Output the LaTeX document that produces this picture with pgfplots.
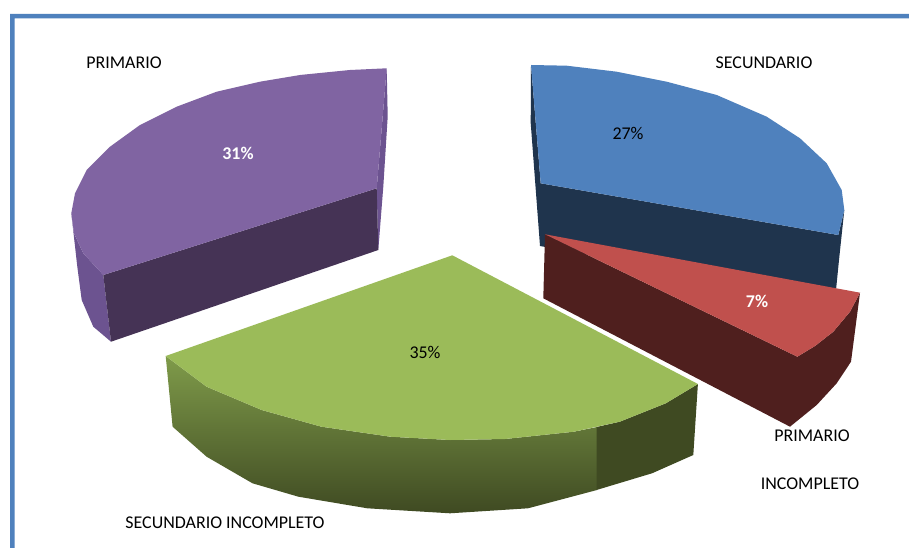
\documentclass[border=0pt]{standalone}
\usepackage{pgfplots}
\pgfplotsset{compat=1.18}
\usepackage{fontspec}
\setmainfont{Carlito}
\definecolor{frameblue}{HTML}{4F81BD}
\definecolor{pur}{HTML}{8064A2}
\definecolor{purs}{HTML}{6C5390}
\definecolor{purd}{HTML}{453355}
\definecolor{blu}{HTML}{4F81BD}
\definecolor{blud}{HTML}{1F344D}
\definecolor{redt}{HTML}{C0504D}
\definecolor{redd}{HTML}{4F1F1E}
\definecolor{grn}{HTML}{9BBB59}
\definecolor{grnl}{HTML}{7F9B4A}
\definecolor{grnd}{HTML}{3F4A22}
\begin{document}
\begin{tikzpicture}
\begin{axis}[scale only axis,width=909bp,height=548bp,xmin=0,xmax=909,ymin=0,ymax=548,y dir=reverse,hide axis,clip=false,
  every axis plot/.append style={draw=none,line join=round}]
% frame
\addplot[fill=white] coordinates {(0,0)(909,0)(909,548)(0,548)} --cycle;
\addplot[fill=frameblue] coordinates {(10,14)(909,14)(909,18.5)(14.5,18.5)(14.5,548)(10,548)} --cycle;
% blue
\addplot[fill=blud] coordinates {(531,65)(530.7,123)(540,246)(835,300)(839,260)(844.3,210)(838.3,235)(540.7,183.3)} --cycle;
\addplot[fill=blu] coordinates {(531,65)(566.7,65.7)(616.7,71.7)(666.7,81.7)(716.7,95)(766.7,116.7)(800,138.3)(826.7,163.3)(841.7,190)(844.3,210)(838.3,235)(540.7,183.3)} --cycle;
% red
\addplot[fill=redd] coordinates {(545,234.3)(797.3,356.7)(815,346)(833.3,331.7)(850,311.7)(860,292.7)(856,323.3)(851,361.7)(836.7,383.3)(816.7,405)(790,426.7)(543.3,298.3)} --cycle;
\addplot[fill=redt] coordinates {(545,234.3)(860,292.7)(850,311.7)(833.3,331.7)(815,346)(797.3,356.7)} --cycle;
% purple
\addplot[fill=purs] coordinates {(71.3,213.3)(74,233.3)(83.3,253.3)(103.3,275)(111,341.7)(93.3,326.7)(81.7,300)(77.3,266.7)} --cycle;
\addplot[fill=purs] coordinates {(386.7,68.3)(387.7,116.7)(383.3,186.7)(378.3,250)(376.7,188.3)} --cycle;
\addplot[fill=purd] coordinates {(103.3,275)(376.7,188.3)(378.3,250)(111,341.7)} --cycle;
\addplot[fill=pur] coordinates {(386.7,68.3)(350,70)(300,75)(260,81.7)(216.7,91.7)(176.7,106.7)(140,125)(110,146.7)(86.7,170)(75,193.3)(71.3,213.3)(74,233.3)(83.3,253.3)(103.3,275)(376.7,188.3)} --cycle;
% green side, shaded part then solid part
\addplot[shade,shading=axis,left color=grnl,right color=grnd,shading angle=0] coordinates {(165.7,356)(206.6,386.7)(261.7,410)(321.4,426.7)(390.3,436.7)(450,440)(505,439)(573.9,431.7)(597,427)(597,490)(528,508.3)(450,513.3)(367.3,508.3)(298.4,496.7)(252.5,483.3)(206.6,456.7)(172.6,426.7)} --cycle;
\addplot[fill=grnd] coordinates {(596.5,427)(619.8,421.7)(665.8,403.3)(697.9,384)(693.3,455)(652,473.3)(596.5,490)} --cycle;
\addplot[fill=grn] coordinates {(452.3,255.3)(697.9,384)(665.8,403.3)(619.8,421.7)(573.9,431.7)(505,439)(450,440)(390.3,436.7)(321.4,426.7)(261.7,410)(206.6,386.7)(165.7,356)} --cycle;
% labels
\node[font=\fontsize{18}{18}\selectfont,anchor=center] at (axis cs:124,63) {PRIMARIO};
\node[font=\fontsize{18}{18}\selectfont,anchor=center] at (axis cs:764,63) {SECUNDARIO};
\node[font=\fontsize{18}{18}\selectfont\bfseries,text=white] at (axis cs:238,153) {31\%};
\node[font=\fontsize{18}{18}\selectfont] at (axis cs:628,133) {27\%};
\node[font=\fontsize{18}{18}\selectfont\bfseries,text=white] at (axis cs:757,301) {7\%};
\node[font=\fontsize{18}{18}\selectfont] at (axis cs:425,352) {35\%};
\node[font=\fontsize{18}{18}\selectfont] at (axis cs:812,436) {PRIMARIO};
\node[font=\fontsize{18}{18}\selectfont] at (axis cs:810,484) {INCOMPLETO};
\node[font=\fontsize{18}{18}\selectfont] at (axis cs:225,523) {SECUNDARIO INCOMPLETO};
\end{axis}
\end{tikzpicture}
\end{document}
